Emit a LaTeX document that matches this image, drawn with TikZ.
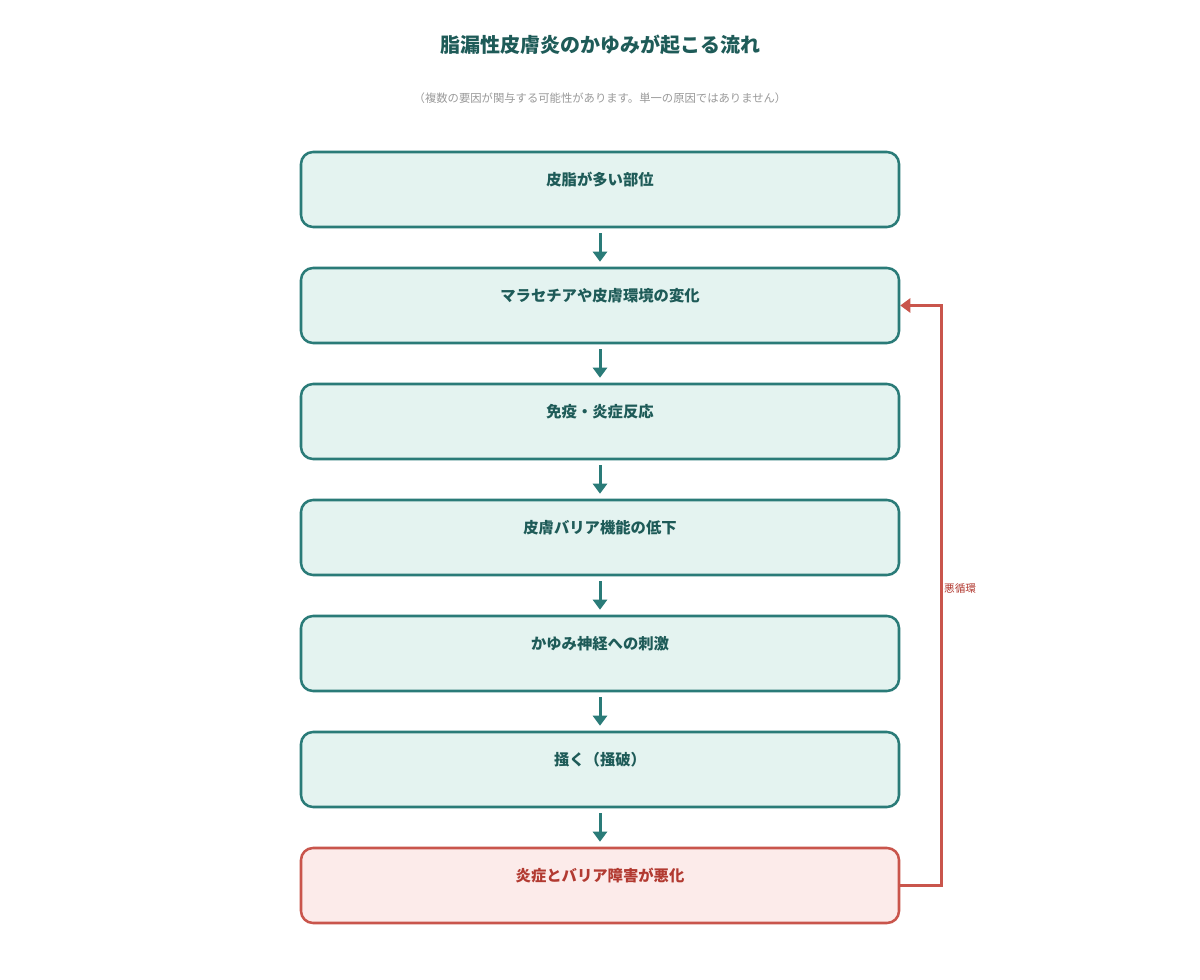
\documentclass[tikz,border=0pt]{standalone}
\usepackage{fontspec}
\setmainfont{Noto Sans CJK JP}
\usetikzlibrary{arrows.meta}
\usetikzlibrary{positioning}
\definecolor{tealline}{HTML}{2A7B78}
\definecolor{tealfill}{HTML}{E4F3F0}
\definecolor{tealtext}{HTML}{1E5B58}
\definecolor{redline}{HTML}{C9554C}
\definecolor{redfill}{HTML}{FCEBEA}
\definecolor{redtext}{HTML}{B23A31}
\definecolor{subgray}{HTML}{9A9A9A}
\tikzset{stepbox/.style = {draw=tealline, fill=tealfill, line width=1.9pt,
                           rounded corners=9pt, minimum width=448.5pt,
                           minimum height=56.25pt, text=tealtext,
                           font=\fontsize{11.5}{13}\selectfont\bfseries,
                           text height=8pt, text depth=13.4pt}}
\tikzset{worsebox/.style = {stepbox, draw=redline, fill=redfill, text=redtext}}
\tikzset{flow/.style = {draw=tealline, line width=2.25pt,
                        -{Triangle[width=10.5pt,length=7.5pt]},
                        shorten <=3.75pt, shorten >=3.75pt}}
\tikzset{loopback/.style = {draw=redline, line width=2.25pt,
                            -{Triangle[width=10.5pt,length=7.5pt]}}}

\begin{document}
\begin{tikzpicture}[x=0.75pt, y=-0.75pt]
    \useasboundingbox [fill=white] (0, 0) rectangle (1200, 980);

    \node [text=tealtext, font=\fontsize{15}{18}\selectfont\bfseries] (title) at (600, 45)
      {脂漏性皮膚炎のかゆみが起こる流れ};
    \node [text=subgray, font=\fontsize{8.5}{10}\selectfont] (note) at (600, 98)
      {（複数の要因が関与する可能性があります。単一の原因ではありません）};

    \node [stepbox] (s1) at (600, 189.5) {皮脂が多い部位};
    \node [stepbox] (s2) at (600, 305.5) {マラセチアや皮膚環境の変化};
    \node [stepbox] (s3) at (600, 421.5) {免疫・炎症反応};
    \node [stepbox] (s4) at (600, 537.5) {皮膚バリア機能の低下};
    \node [stepbox] (s5) at (600, 653.5) {かゆみ神経への刺激};
    \node [stepbox] (s6) at (600, 769.5) {掻く（掻破）};
    \node [worsebox] (s7) at (600, 885.5) {炎症とバリア障害が悪化};

    \foreach \a/\b in {s1/s2, s2/s3, s3/s4, s4/s5, s5/s6, s6/s7} {
      \draw [flow] (\a.south) -- (\b.north);
    }

    % feedback loop
    \draw [loopback] (s7.east) -- ++(41, 0) |- (s2.east)
      node [pos=0.256, right, inner sep=1pt, text=redtext,
            font=\fontsize{8}{10}\selectfont] (cycle) {悪循環};
  \end{tikzpicture}
\end{document}
